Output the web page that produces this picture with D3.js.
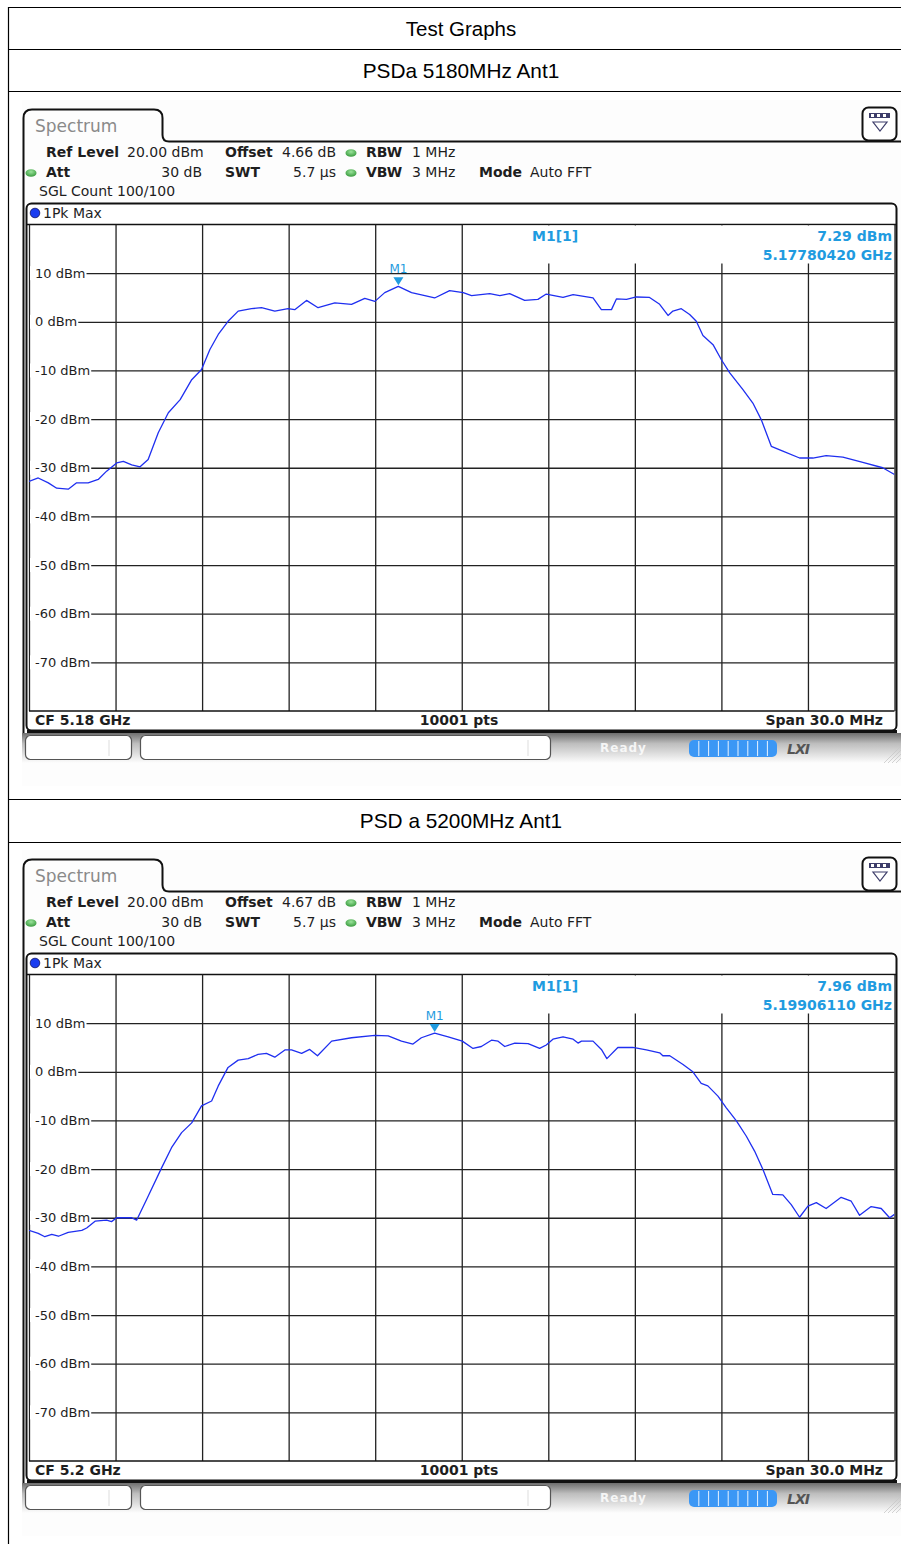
<!DOCTYPE html>
<html><head><meta charset="utf-8">
<script src="https://cdn.jsdelivr.net/npm/d3@7"></script>
<style>
html,body{margin:0;padding:0;background:#fff;}
svg{display:block;}
</style>
</head><body>
<svg id="page" width="901" height="1544"></svg>
<script>
// ---------------- DATA ----------------
const pageTitle = "Test Graphs";
const chartTitles = ["PSDa 5180MHz Ant1", "PSD a 5200MHz Ant1"];
const centerFreqMHz = [5180, 5200];
const spanMHz = 30;
const cfLabels = ["CF 5.18 GHz", "CF 5.2 GHz"];
const offsetLabels = ["4.66 dB", "4.67 dB"];
const markerFreqMHz = [5177.8042, 5199.0611];
const markerLevels = [7.29, 7.96];
const markerLevelLabels = ["7.29 dBm", "7.96 dBm"];
const markerFreqLabels = ["5.17780420 GHz", "5.19906110 GHz"];
const yTickValues = [10, 0, -10, -20, -30, -40, -50, -60, -70];
const yTickLabels = ["10 dBm", "0 dBm", "-10 dBm", "-20 dBm", "-30 dBm", "-40 dBm", "-50 dBm", "-60 dBm", "-70 dBm"];
const yDomain = [-80, 20];

const psd5180Freq = [5165.00,5165.32,5165.67,5165.96,5166.36,5166.65,5167.05,5167.40,5167.69,5168.04,
5168.27,5168.56,5168.85,5169.13,5169.48,5169.83,5170.24,5170.64,5170.98,5171.27,
5171.56,5171.90,5172.25,5172.71,5173.06,5173.52,5173.98,5174.21,5174.62,5175.02,
5175.60,5176.18,5176.64,5176.99,5177.33,5177.80,5178.26,5178.72,5179.06,5179.58,
5180.05,5180.34,5180.97,5181.32,5181.66,5182.18,5182.64,5182.93,5183.51,5183.86,
5184.55,5184.84,5185.19,5185.36,5185.71,5186.05,5186.51,5186.86,5187.15,5187.32,
5187.61,5187.90,5188.13,5188.36,5188.71,5189.00,5189.29,5189.74,5190.09,5190.38,
5190.73,5191.13,5191.71,5192.17,5192.63,5193.21,5193.90,5194.59,5195.00];
const psd5180dBm = [-32.8,-32.1,-33.1,-34.2,-34.4,-33.1,-33.1,-32.4,-30.7,-29.0,
-28.7,-29.4,-29.8,-28.3,-22.8,-18.7,-16.0,-11.9,-9.8,-5.7,
-2.6,0.1,2.2,2.7,2.9,2.2,2.7,2.5,4.4,2.9,
3.9,3.6,4.8,4.2,6.0,7.29,6.0,5.4,4.9,6.4,
6.0,5.4,5.8,5.4,5.8,4.4,4.6,5.7,5.0,5.6,
4.9,2.5,2.5,4.7,4.6,5.1,5.0,3.6,1.3,2.2,
2.7,1.5,0.1,-2.8,-4.7,-7.8,-10.5,-13.9,-16.7,-20.1,
-25.6,-26.6,-28.0,-28.0,-27.5,-27.8,-28.9,-30.0,-31.4];

const psd5200Freq = [5185.00,5185.32,5185.55,5185.79,5186.02,5186.36,5186.83,5187.00,5187.29,5187.69,
5187.86,5188.04,5188.33,5188.56,5188.73,5189.08,5189.60,5189.94,5190.29,5190.64,
5190.98,5191.33,5191.56,5191.90,5192.25,5192.60,5192.94,5193.23,5193.52,5193.87,
5194.10,5194.45,5194.73,5195.00,5195.49,5196.18,5196.99,5197.45,5197.91,5198.31,
5198.60,5199.06,5199.53,5200.02,5200.39,5200.68,5201.03,5201.26,5201.49,5201.84,
5202.30,5202.70,5202.93,5203.16,5203.51,5203.86,5204.03,5204.15,5204.55,5204.84,
5205.03,5205.41,5205.93,5206.40,5206.86,5206.97,5207.21,5207.67,5208.01,5208.30,
5208.53,5208.88,5209.17,5209.52,5209.86,5210.15,5210.44,5210.78,5211.13,5211.42,
5211.71,5212.00,5212.29,5212.63,5213.15,5213.50,5213.79,5214.19,5214.54,5214.83,
5215.00];
const psd5200dBm = [-32.6,-33.2,-33.9,-33.4,-33.8,-33.0,-32.6,-32.1,-30.7,-30.5,
-30.8,-30.0,-30.0,-30.0,-30.5,-26.2,-19.7,-15.6,-12.5,-10.5,
-7.0,-6.0,-2.9,0.9,2.4,2.7,3.6,3.8,3.0,4.5,
4.5,3.8,4.6,3.3,6.3,7.0,7.5,7.4,6.3,5.7,
7.0,7.96,7.2,6.3,4.8,5.2,6.5,6.3,5.2,5.9,
5.8,4.8,5.5,6.7,7.2,6.7,5.9,6.3,6.3,4.6,
2.7,5.0,5.0,4.5,3.9,3.3,3.3,1.5,0.0,-2.4,
-2.9,-5.0,-7.4,-10.1,-13.2,-16.3,-20.1,-25.2,-25.3,-27.3,
-29.9,-27.6,-26.9,-28.1,-25.8,-26.6,-29.5,-27.7,-28.1,-30.0,
-29.3];

const traceFreqs = [psd5180Freq, psd5200Freq];
const traceLevels = [psd5180dBm, psd5200dBm];

// ---------------- DRAWING ----------------
const svg = d3.select("#page");
const FONT = "'DejaVu Sans', Verdana, sans-serif";
const TXT = "#1e1e1e";
const MK = "#1f9be0";

const defs = svg.append("defs");
const grad = defs.append("linearGradient").attr("id","statusGrad").attr("x1",0).attr("y1",0).attr("x2",0).attr("y2",1);
grad.append("stop").attr("offset","0%").attr("stop-color","#6e6e6e");
grad.append("stop").attr("offset","35%").attr("stop-color","#bdbdbd");
grad.append("stop").attr("offset","100%").attr("stop-color","#fdfdfd");
const dotGrad = defs.append("radialGradient").attr("id","greenDot").attr("cx","50%").attr("cy","35%").attr("r","60%");
dotGrad.append("stop").attr("offset","0%").attr("stop-color","#9be49b");
dotGrad.append("stop").attr("offset","100%").attr("stop-color","#3f9f44");

// Table lines
const tbl = svg.append("g").attr("stroke","#000").attr("stroke-width",1.2);
tbl.append("line").attr("x1",8).attr("x2",901).attr("y1",7.5).attr("y2",7.5);
[49.5, 91.5, 799.5, 842.5].forEach(yy => tbl.append("line").attr("x1",8).attr("x2",901).attr("y1",yy).attr("y2",yy));
tbl.append("line").attr("x1",8.5).attr("x2",8.5).attr("y1",7).attr("y2",1544);

const titleFont = "'Liberation Sans', Arial, sans-serif";
svg.append("text").attr("x",461).attr("y",36).attr("text-anchor","middle")
  .attr("font-family",titleFont).attr("font-size",20.5).attr("fill","#000").text(pageTitle);
[78, 828].forEach((yy,i) => svg.append("text").attr("x",461).attr("y",yy).attr("text-anchor","middle")
  .attr("font-family",titleFont).attr("font-size",20.8).attr("fill","#000").text(chartTitles[i]));

function drawChart(idx, oy) {
  const g = svg.append("g").attr("transform", `translate(0,${oy})`);
  // screenshot background
  g.append("rect").attr("x",22).attr("y",100).attr("width",879).attr("height",686).attr("fill","#fdfdfd");

  // Tab + panel outline
  g.append("path")
    .attr("d","M23.5,733 L23.5,118 Q23.5,109.5 32,109.5 L154,109.5 Q162.5,109.5 162.5,118 L162.5,135 Q162.5,141.5 169,141.5 L901,141.5")
    .attr("fill","none").attr("stroke","#111").attr("stroke-width",2);
  g.append("text").attr("x",35).attr("y",132).attr("font-family",FONT).attr("font-size",17)
    .attr("fill","#8a8a8a").text("Spectrum");

  // icon button
  g.append("rect").attr("x",862.5).attr("y",107.5).attr("width",34).attr("height",33).attr("rx",6)
    .attr("fill","#fff").attr("stroke","#111").attr("stroke-width",2);
  g.append("rect").attr("x",869).attr("y",113).attr("width",21).attr("height",5).attr("fill","#3d3d6a");
  [872.5,878.5,884.5].forEach(xx => g.append("rect").attr("x",xx-1.5).attr("y",114).attr("width",3).attr("height",3).attr("fill","#fff"));
  g.append("path").attr("d","M873,122 L887,122 L880,131 Z").attr("fill","none").attr("stroke","#3d3d6a").attr("stroke-width",1.2);

  // Info rows
  const info = g.append("g").attr("font-family",FONT).attr("font-size",14).attr("fill",TXT);
  const t = (x,y,s,bold,anchor) => info.append("text").attr("x",x).attr("y",y).text(s)
     .attr("font-weight",bold?"bold":"normal").attr("text-anchor",anchor||"start");
  t(46,157,"Ref Level",true); t(127,157,"20.00 dBm"); t(225,157,"Offset",true); t(282,157,offsetLabels[idx]);
  t(366,157,"RBW",true); t(412,157,"1 MHz");
  t(46,177,"Att",true); t(202,177,"30 dB",false,"end"); t(225,177,"SWT",true); t(336,177,"5.7 µs",false,"end");
  t(366,177,"VBW",true); t(412,177,"3 MHz"); t(479,177,"Mode",true); t(530,177,"Auto FFT");
  t(39,196,"SGL Count 100/100");
  [[351,153],[31,173],[351,173]].forEach(([cx,cy]) => g.append("ellipse").attr("cx",cx).attr("cy",cy)
     .attr("rx",5.5).attr("ry",3.8).attr("fill","url(#greenDot)"));

  // Plot window frame
  const L = 29, R = 894.5, T = 224.5, B = 711;
  g.append("rect").attr("x",26.5).attr("y",203.5).attr("width",870).attr("height",527).attr("rx",5)
    .attr("fill","#fff").attr("stroke","#111").attr("stroke-width",2);
  g.append("line").attr("x1",27).attr("x2",897).attr("y1",731.5).attr("y2",731.5).attr("stroke","#111").attr("stroke-width",3);
  g.append("line").attr("x1",26.5).attr("x2",896.5).attr("y1",T).attr("y2",T).attr("stroke","#111").attr("stroke-width",1.5);
  g.append("circle").attr("cx",35).attr("cy",213).attr("r",4.8).attr("fill","#1a3cf0").attr("stroke","#101060").attr("stroke-width",0.8);
  g.append("text").attr("x",43).attr("y",218).attr("font-family",FONT).attr("font-size",14).attr("fill",TXT).text("1Pk Max");

  // scales
  const f0 = centerFreqMHz[idx] - spanMHz/2, f1 = centerFreqMHz[idx] + spanMHz/2;
  const x = d3.scaleLinear().domain([f0, f1]).range([L, R]);
  const y = d3.scaleLinear().domain(yDomain).range([B, T]);

  // vertical grid
  const xGrid = g.append("g").attr("transform",`translate(0,${B})`)
    .call(d3.axisBottom(x).tickValues(d3.range(0, 11).map(i => f0 + i*spanMHz/10)).tickSize(-(B-T)).tickFormat(""));
  xGrid.select(".domain").remove();
  xGrid.selectAll("line").attr("stroke","#222").attr("stroke-width",1.3);
  // horizontal grid
  const yGrid = g.append("g").attr("transform",`translate(${L},0)`)
    .call(d3.axisLeft(y).tickValues(yTickValues).tickSize(-(R-L)).tickFormat(""));
  yGrid.select(".domain").remove();
  yGrid.selectAll("line").attr("stroke","#222").attr("stroke-width",1.3);
  g.append("line").attr("x1",L).attr("x2",R).attr("y1",B).attr("y2",B).attr("stroke","#111").attr("stroke-width",1.5);

  // y labels with white backing
  const lab = g.append("g").attr("font-family",FONT).attr("font-size",13).attr("fill",TXT);
  yTickValues.forEach((v,i) => {
    const bg = lab.append("rect").attr("fill","#fff");
    const tx = lab.append("text").attr("x",35).attr("y",y(v)+4.5).text(yTickLabels[i]);
    const w = tx.node().getComputedTextLength();
    bg.attr("x",30).attr("y",y(v)-7).attr("width",w+6).attr("height",14);
  });

  // marker info box
  g.append("rect").attr("x",463).attr("y",T+1).attr("width",R-463-1).attr("height",38).attr("fill","#fff");
  const mi = g.append("g").attr("font-family",FONT).attr("font-size",14).attr("font-weight","bold").attr("fill",MK);
  mi.append("text").attr("x",532).attr("y",241).text("M1[1]");
  mi.append("text").attr("x",892).attr("y",241).attr("text-anchor","end").text(markerLevelLabels[idx]);
  mi.append("text").attr("x",892).attr("y",260).attr("text-anchor","end").text(markerFreqLabels[idx]);

  // trace
  g.append("clipPath").attr("id","clip"+idx).append("rect").attr("x",L).attr("y",T).attr("width",R-L).attr("height",B-T);
  const pts = traceFreqs[idx].map((f,i) => [f, traceLevels[idx][i]]);
  g.append("path").datum(pts).attr("clip-path",`url(#clip${idx})`)
    .attr("d", d3.line().x(d => x(d[0])).y(d => y(d[1])))
    .attr("fill","none").attr("stroke","#1f2ff0").attr("stroke-width",1.3).attr("stroke-linejoin","round");

  // marker
  const mx = x(markerFreqMHz[idx]), my = y(markerLevels[idx]);
  g.append("path").attr("d",`M${mx-5},${my-9} L${mx+5},${my-9} L${mx},${my-1} Z`).attr("fill",MK);
  g.append("text").attr("x",mx).attr("y",my-13).attr("text-anchor","middle").attr("font-family",FONT)
    .attr("font-size",12).attr("fill",MK).text("M1");

  // bottom info row
  const bi = g.append("g").attr("font-family",FONT).attr("font-size",14).attr("font-weight","bold").attr("fill",TXT);
  bi.append("text").attr("x",35).attr("y",725).text(cfLabels[idx]);
  bi.append("text").attr("x",459).attr("y",725).attr("text-anchor","middle").text("10001 pts");
  bi.append("text").attr("x",883).attr("y",725).attr("text-anchor","end").text("Span 30.0 MHz");

  // status bar
  g.append("rect").attr("x",22).attr("y",733).attr("width",879).attr("height",30).attr("fill","url(#statusGrad)");
  g.append("rect").attr("x",25.5).attr("y",735.5).attr("width",106).attr("height",24).attr("rx",5)
    .attr("fill","#fff").attr("stroke","#555").attr("stroke-width",1.2);
  g.append("line").attr("x1",109).attr("x2",109).attr("y1",740).attr("y2",756).attr("stroke","#ddd");
  g.append("rect").attr("x",140.5).attr("y",735.5).attr("width",410).attr("height",24).attr("rx",5)
    .attr("fill","#fff").attr("stroke","#555").attr("stroke-width",1.2);
  g.append("line").attr("x1",528).attr("x2",528).attr("y1",740).attr("y2",756).attr("stroke","#ddd");
  g.append("text").attr("x",600).attr("y",752).attr("font-family",FONT).attr("font-size",12).attr("font-weight","bold")
    .attr("fill","#ffffff").attr("fill-opacity",0.85).attr("letter-spacing",1).text("Ready");
  g.append("rect").attr("x",689).attr("y",740).attr("width",88).attr("height",17).attr("rx",5).attr("fill","#3b97f5");
  d3.range(1,9).forEach(i => g.append("line").attr("x1",689+i*9.8).attr("x2",689+i*9.8).attr("y1",741).attr("y2",756)
    .attr("stroke","#e8f2ff").attr("stroke-width",1));
  g.append("text").attr("x",787).attr("y",754).attr("font-family",FONT).attr("font-size",14).attr("font-weight","bold")
    .attr("font-style","italic").attr("fill","#555").attr("letter-spacing",-1).text("LXI");
  [0,4,8,12].forEach(k => g.append("line").attr("x1",884+k).attr("y1",763).attr("x2",901).attr("y2",746+k)
    .attr("stroke","#c8c8c8").attr("stroke-width",0.8));
}

drawChart(0, 0);
drawChart(1, 750);
</script>
</body></html>
